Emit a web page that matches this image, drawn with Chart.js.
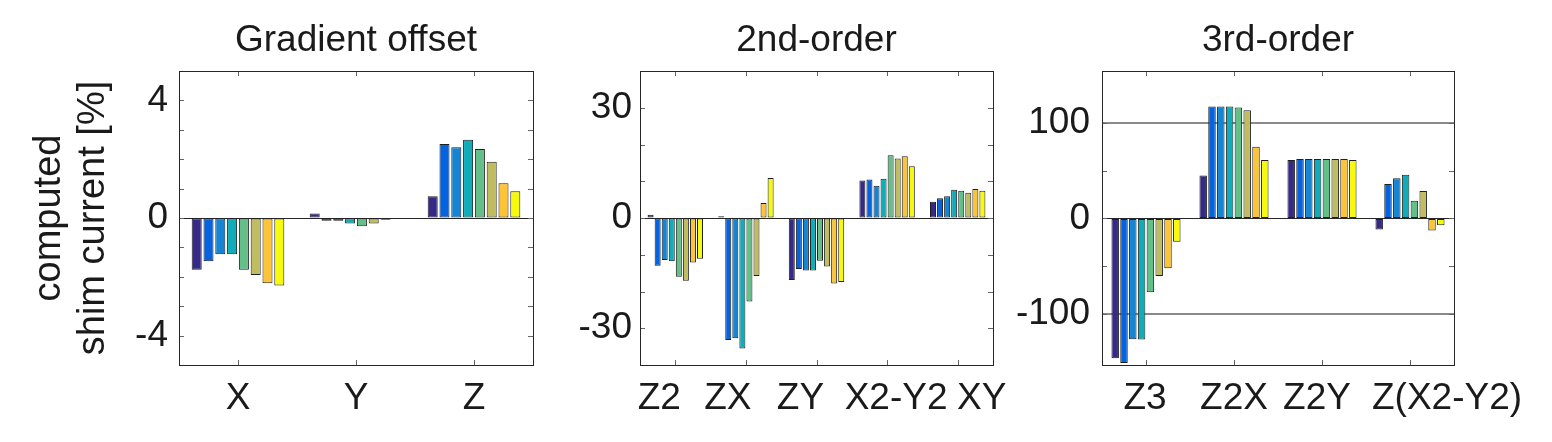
<!DOCTYPE html>
<html>
<head>
<meta charset="utf-8">
<script src="https://cdn.jsdelivr.net/npm/chart.js@4/dist/chart.umd.min.js"></script>
<style>
  body { margin: 0; background: #fff; }
  #wrap { position: relative; width: 1552px; height: 442px; }
  canvas { position: absolute; top: 0; }
</style>
</head>
<body>
<div id="wrap">
  <canvas id="grad" width="560" height="442" style="left:0px"></canvas>
  <canvas id="second" width="450" height="442" style="left:560px"></canvas>
  <canvas id="third" width="542" height="442" style="left:1010px"></canvas>
</div>
<script>
// values per category, 8 runs each
const gradCategories = ['X', 'Y', 'Z'];
const gradValues = [
    [-1.76, -1.47, -1.23, -1.23, -1.76, -1.94, -2.22, -2.30],
    [0.15, -0.09, -0.09, -0.19, -0.28, -0.19, -0.06, -0.02],
    [0.74, 2.52, 2.41, 2.66, 2.35, 1.91, 1.18, 0.91]
];
const gradLabels = [-4, 0, 4];

const secondCategories = ['Z2', 'ZX', 'ZY', 'X2-Y2', 'XY'];
const secondValues = [
    [0.9, -13.0, -11.4, -11.8, -16.0, -17.1, -12.1, -11.1],
    [0.5, -33.2, -32.7, -35.5, -22.7, -15.8, 4.1, 10.9],
    [-16.9, -13.9, -14.3, -14.3, -11.6, -13.2, -17.8, -17.4],
    [10.2, 10.5, 8.8, 10.7, 17.1, 16.2, 16.8, 14.1],
    [4.4, 5.4, 5.9, 7.7, 7.4, 6.9, 7.9, 7.4]
];
const secondLabels = [-30, 0, 30];

const thirdCategories = ['Z3', 'Z2X', 'Z2Y', 'Z(X2-Y2)'];
const thirdValues = [
    [-146, -151, -126, -126.5, -77, -60, -52, -24.4],
    [45, 117, 117, 117, 116, 113, 75, 61],
    [61, 62, 62, 62, 62, 62, 62, 61],
    [-11.5, 36, 42, 45.6, 18.5, 28.6, -12.5, -7]
];
const thirdLabels = [-100, 0, 100];

const runColors = ['#352a87', '#0363e1', '#1485d4', '#0fadb9', '#64bf89', '#c0bc60', '#fec437', '#f8fa0d'];

const FONT = "'Liberation Sans', Arial, sans-serif";
const TEXT = '#1a1a1a';

// box around the axes + inward tick marks (matlab style)
const framePlugin = {
    id: 'frame',
    afterDraw(chart) {
        const { ctx, chartArea: a, scales: { x, y } } = chart;
        ctx.save();
        ctx.strokeStyle = '#666';
        ctx.lineWidth = 1;
        ctx.beginPath();
        y.ticks.forEach(t => {
            if (t.value <= y.min || t.value >= y.max) return;
            const py = Math.round(y.getPixelForValue(t.value)) + 0.5;
            ctx.moveTo(a.left, py); ctx.lineTo(a.left + 5, py);
            ctx.moveTo(a.right, py); ctx.lineTo(a.right - 5, py);
        });
        x.ticks.forEach((t, i) => {
            const px = Math.round(x.getPixelForTick(i)) + 0.5;
            ctx.moveTo(px, a.top); ctx.lineTo(px, a.top + 5);
            ctx.moveTo(px, a.bottom); ctx.lineTo(px, a.bottom - 5);
        });
        ctx.stroke();
        ctx.strokeStyle = '#262626';
        ctx.strokeRect(Math.round(a.left) + 0.5, Math.round(a.top) + 0.5,
            Math.round(a.right - a.left), Math.round(a.bottom - a.top));
        ctx.restore();
    }
};

// category names under the axis; the original nudges some of them sideways
const catLabelPlugin = {
    id: 'catLabels',
    afterDraw(chart, args, opts) {
        const { ctx, scales: { x } } = chart;
        ctx.save();
        ctx.font = '37px ' + FONT;
        ctx.fillStyle = TEXT;
        ctx.textAlign = 'center';
        ctx.textBaseline = 'alphabetic';
        chart.data.labels.forEach((lab, i) => {
            ctx.fillText(lab, x.getPixelForTick(i) + (opts.shift[i] || 0), opts.baseline);
        });
        ctx.restore();
    }
};

function makePanel(id, o) {
    const datasets = runColors.map((c, s) => ({
        label: 'run ' + (s + 1),
        data: o.values.map(row => row[s]),
        backgroundColor: c,
        borderColor: '#1f1f1f',
        borderWidth: 1,
        borderSkipped: false,
        barPercentage: 0.85,
        categoryPercentage: 0.8
    }));

    return new Chart(document.getElementById(id), {
        type: 'bar',
        data: { labels: o.categories, datasets: datasets },
        options: {
            responsive: false,
            animation: false,
            devicePixelRatio: 1,
            layout: { padding: { left: 0, right: o.padRight, top: 0, bottom: 0 } },
            plugins: {
                legend: { display: false },
                tooltip: { enabled: false },
                title: {
                    display: true,
                    text: o.title,
                    fullSize: false,
                    color: TEXT,
                    font: { family: FONT, size: 37, weight: 'normal' },
                    padding: { top: 19, bottom: 7.6 }
                },
                catLabels: { shift: o.labelShift, baseline: 409 }
            },
            scales: {
                x: {
                    grid: { display: false },
                    border: { display: false },
                    ticks: { display: false },
                    afterFit: s => { s.height = 77; }
                },
                y: {
                    min: o.min,
                    max: o.max,
                    z: 1,
                    border: { display: false },
                    grid: {
                        drawTicks: false,
                        color: c => c.tick.value === 0 ? '#262626' : (Math.abs(c.tick.value) === o.gridAt ? '#8a8a8a' : 'rgba(0,0,0,0)'),
                        lineWidth: c => c.tick.value === 0 ? 1 : (Math.abs(c.tick.value) === o.gridAt ? 2 : 0)
                    },
                    ticks: {
                        stepSize: o.step,
                        autoSkip: false,
                        padding: o.tickPad,
                        color: TEXT,
                        font: { family: FONT, size: 37 },
                        callback: v => o.labels.includes(v) ? String(v) : ''
                    },
                    title: {
                        display: !!o.yTitle,
                        text: o.yTitle,
                        color: TEXT,
                        font: { family: FONT, size: 38, lineHeight: 1.17 },
                        padding: { top: 27, bottom: 0 }
                    },
                    afterFit: s => { s.width = o.axisWidth; }
                }
            }
        },
        plugins: [framePlugin, catLabelPlugin]
    });
}

makePanel('grad', {
    title: 'Gradient offset', categories: gradCategories, values: gradValues, labels: gradLabels,
    min: -5, max: 5, step: 1, gridAt: null,
    yTitle: ['computed', 'shim current [%]'],
    axisWidth: 179, padRight: 27, tickPad: 11,
    labelShift: [0, 0, 0]
});

makePanel('second', {
    title: '2nd-order', categories: secondCategories, values: secondValues, labels: secondLabels,
    min: -40, max: 40, step: 10, gridAt: null,
    axisWidth: 80, padRight: 17, tickPad: 8,
    labelShift: [-16, -18, -16, 9, 24]
});

makePanel('third', {
    title: '3rd-order', categories: thirdCategories, values: thirdValues, labels: thirdLabels,
    min: -153, max: 154, step: 50, gridAt: 100,
    axisWidth: 92, padRight: 98, tickPad: 12,
    labelShift: [-1, 0, -5, 37]
});
</script>
</body>
</html>
